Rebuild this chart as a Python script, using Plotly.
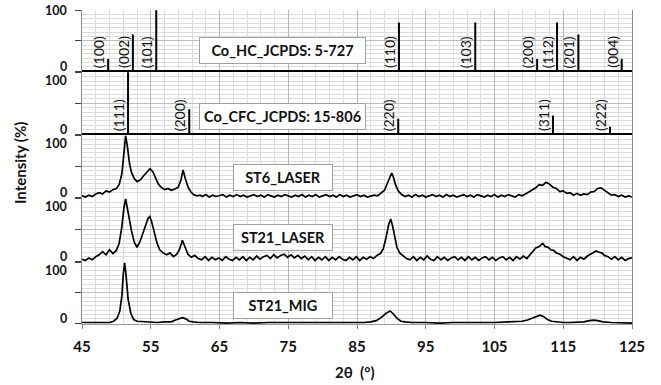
import plotly.graph_objects as go

# ---------------- data ----------------
HC_POS = [48.8, 52.4, 55.8, 91.1, 102.2, 111.2, 114.1, 117.2, 123.5]
HC_INT = [20, 60, 100, 80, 80, 20, 80, 60, 20]
HC_HKL = ["(100)", "(002)", "(101)", "(110)", "(103)", "(200)", "(112)", "(201)", "(004)"]

CFC_POS = [51.7, 60.6, 91.0, 113.5, 121.8]
CFC_INT = [100, 40, 25, 30, 12]
CFC_HKL = ["(111)", "(200)", "(220)", "(311)", "(222)"]

ST6_X = [45, 45.5, 46, 46.5, 47, 47.5, 48, 48.5, 49, 49.5,
         50, 50.4, 50.8, 51.1, 51.35, 51.6, 51.9, 52.2, 52.6, 53.0,
         53.5, 54.0, 54.5, 54.9, 55.3, 55.7, 56.1, 56.5, 57.0, 57.5,
         58.0, 58.5, 59.0, 59.4, 59.7, 60.0, 60.4, 60.8, 61.2, 61.7,
         62.2, 62.5, 63, 63.5, 64, 64.5, 65, 65.5, 66, 66.5,
         67, 67.5, 68, 68.5, 69, 69.5, 70, 70.5, 71, 71.5,
         72, 72.5, 73, 73.5, 74, 74.5, 75, 75.5, 76, 76.5,
         77, 77.5, 78, 78.5, 79, 79.5, 80, 80.5, 81, 81.5,
         82, 82.5, 83, 83.5, 84, 84.5, 85, 85.5, 86, 86.5,
         87, 87.5, 88, 88.5, 89, 89.4, 89.8, 90.05, 90.3, 90.6,
         91.0, 91.5, 92, 92.5, 93, 93.5, 94, 94.5, 95, 95.5,
         96, 96.5, 97, 97.5, 98, 98.5, 99, 99.5, 100, 100.5,
         101, 101.5, 102, 102.5, 103, 103.5, 104, 104.5, 105, 105.5,
         106, 106.5, 107, 107.5, 108, 108.5, 109, 109.5, 110, 110.5,
         111, 111.5, 112, 112.5, 113, 113.5, 114, 114.5, 115, 115.5,
         116, 116.5, 117, 117.5, 118, 118.5, 119, 119.5, 120, 120.5,
         121, 121.5, 122, 122.5, 123, 123.5, 124, 124.5, 125]
ST6_Y = [2, 0, 3, 1, 5, 7, 5, 10, 8, 12,
         14, 20, 38, 72, 99, 82, 55, 40, 30, 25,
         28, 35, 42, 46, 41, 30, 21, 16, 12, 14,
         11, 13, 16, 28, 44, 31, 17, 9, 4, 2,
         3, 1, 4, 0, 3, 1, 2, 4, 0, 3,
         1, 4, 1, 3, 0, 2, 4, 1, 3, 0,
         4, 2, 0, 3, 1, 4, 2, 0, 3, 1,
         4, 0, 3, 1, 4, 0, 2, 4, 1, 3,
         0, 4, 1, 3, 0, 2, 4, 1, 3, 0,
         2, 3, 2, 6, 11, 22, 34, 39, 32, 20,
         10, 4, 1, 3, 0, 4, 1, 3, 0, 2,
         4, 1, 3, 0, 4, 1, 3, 0, 2, 4,
         1, 3, 0, 4, 2, 0, 3, 1, 4, 0,
         3, 1, 4, 2, 0, 4, 2, 5, 8, 12,
         15, 20, 19, 24, 21, 16, 14, 9, 10, 6,
         7, 3, 6, 3, 5, 4, 8, 9, 14, 15,
         11, 8, 3, 4, 1, 3, 0, 2, 0]

ST21L_X = [45, 45.5, 46, 46.5, 47, 47.5, 48, 48.5, 49, 49.5,
           50, 50.4, 50.8, 51.1, 51.35, 51.6, 51.9, 52.2, 52.6, 53.0,
           53.4, 53.8, 54.2, 54.6, 54.85, 55.1, 55.5, 55.9, 56.3, 56.8,
           57.3, 57.8, 58.3, 58.8, 59.2, 59.6, 60.0, 60.4, 60.9, 61.4,
           61.9, 62.4, 62.9, 63.4, 63.9, 64.4, 64.9, 65.4, 65.9, 66.4,
           66.9, 67.4, 67.9, 68.4, 68.9, 69.4, 69.9, 70.4, 70.9, 71.4,
           71.9, 72.4, 72.9, 73.4, 73.9, 74.4, 74.9, 75.4, 75.9, 76.4,
           76.9, 77.4, 77.9, 78.4, 78.9, 79.4, 79.9, 80.4, 80.9, 81.4,
           81.9, 82.4, 82.9, 83.4, 83.9, 84.4, 84.9, 85.4, 85.9, 86.4,
           86.9, 87.4, 87.9, 88.4, 88.8, 89.2, 89.6, 89.9, 90.2, 90.5,
           90.8, 91.2, 91.7, 92.2, 92.7, 93.2, 93.7, 94.2, 94.7, 95.2,
           95.7, 96.2, 96.7, 97.2, 97.7, 98.2, 98.7, 99.2, 99.7, 100.2,
           100.7, 101.2, 101.7, 102.2, 102.7, 103.2, 103.7, 104.2, 104.7, 105.2,
           105.7, 106.2, 106.7, 107.2, 107.7, 108.2, 108.7, 109.2, 109.7, 110.2,
           110.6, 111.0, 111.5, 112.0, 112.4, 112.8, 113.2, 113.6, 114.0, 114.5,
           115.0, 115.5, 116.0, 116.5, 117.0, 117.5, 118.0, 118.5, 119.0, 119.4,
           119.8, 120.2, 120.6, 121.0, 121.5, 122.0, 122.5, 123.0, 123.5, 124.0,
           124.5, 125.0]
ST21L_Y = [3, 1, 5, 2, 7, 10, 15, 10, 18, 12,
           17, 28, 55, 85, 99, 84, 63, 48, 30, 22,
           30, 44, 55, 68, 71, 64, 46, 29, 18, 13,
           10, 13, 7, 11, 19, 33, 22, 11, 6, 9,
           4, 2, 7, 1, 6, 2, 5, 1, 7, 3,
           1, 6, 2, 7, 1, 6, 2, 8, 3, 7,
           9, 4, 10, 5, 9, 11, 6, 10, 5, 9,
           4, 8, 2, 7, 1, 6, 2, 7, 1, 6,
           2, 7, 3, 1, 6, 2, 7, 1, 6, 3,
           7, 4, 9, 12, 19, 36, 58, 67, 55, 38,
           22, 13, 8, 4, 2, 7, 1, 6, 2, 8,
           3, 1, 7, 2, 6, 1, 5, 7, 2, 6,
           1, 7, 2, 6, 1, 5, 7, 2, 6, 1,
           5, 7, 2, 6, 1, 7, 3, 8, 4, 10,
           16, 21, 23, 28, 23, 22, 18, 17, 13, 11,
           7, 4, 2, 7, 1, 6, 3, 8, 11, 14,
           16, 14, 13, 9, 7, 3, 7, 2, 6, 1,
           4, 5]

MIG_X = [45, 46, 47, 48, 49, 49.6, 50.1, 50.5, 50.8, 51.0,
         51.2, 51.4, 51.7, 52.1, 52.5, 53, 54, 55, 56, 57,
         58, 58.6, 59.2, 59.6, 60.1, 60.6, 61.2, 62, 64, 66,
         68, 70, 72, 74, 76, 78, 80, 82, 84, 86,
         87, 87.8, 88.5, 89.2, 89.8, 90.3, 90.8, 91.4, 92, 93,
         95, 97, 99, 101, 103, 105, 107, 108, 109, 109.8,
         110.6, 111.2, 111.6, 112.1, 112.7, 113.3, 114, 115, 116, 117,
         118, 118.8, 119.4, 120, 120.8, 122, 123, 124, 125]
MIG_Y = [1, 1, 0, 1, 1, 3, 8, 20, 45, 80,
         99, 80, 40, 16, 6, 3, 2, 1, 1, 2,
         2, 5, 8, 9, 7, 3, 2, 1, 1, 0,
         1, 0, 1, 1, 0, 1, 0, 1, 1, 1,
         2, 4, 9, 16, 20, 15, 8, 3, 2, 1,
         1, 0, 1, 1, 0, 1, 2, 2, 3, 5,
         9, 12, 13, 11, 6, 3, 2, 1, 1, 1,
         2, 4, 5, 4, 2, 1, 1, 0, 0]

PANEL_LABELS = ["Co_HC_JCPDS: 5-727", "Co_CFC_JCPDS: 15-806", "ST6_LASER", "ST21_LASER", "ST21_MIG"]
X_TICKS = [45, 55, 65, 75, 85, 95, 105, 115, 125]

FONT = "Lato"
INK = "#111111"


def sticks(pos, inten):
    xs, ys = [45], [0]
    for p, h in zip(pos, inten):
        xs += [p, p, p]
        ys += [0, h, 0]
    xs.append(125)
    ys.append(0)
    return xs, ys


fig = go.Figure()
hx, hy = sticks(HC_POS, HC_INT)
cx, cy = sticks(CFC_POS, CFC_INT)
series = [(hx, hy, 2), (cx, cy, 2), (ST6_X, ST6_Y, 1.7), (ST21L_X, ST21L_Y, 1.7), (MIG_X, MIG_Y, 1.7)]
yrefs = ["y", "y2", "y3", "y4", "y5"]
for i, (xs, ys, w) in enumerate(series):
    fig.add_trace(go.Scatter(x=xs, y=ys, mode="lines", yaxis=yrefs[i], xaxis="x",
                             line=dict(color="black", width=w), showlegend=False,
                             hoverinfo="skip"))

# panel domains (top -> bottom)
bounds_px = [10, 72, 135, 198, 262, 324]
top, bot = bounds_px[0], bounds_px[-1]
H = bot - top
domains = []
for i in range(5):
    d0 = (bot - bounds_px[i + 1]) / H
    d1 = (bot - bounds_px[i]) / H
    domains.append([d0, d1])

layout = dict(
    width=661, height=385,
    margin=dict(l=82, r=29, t=10, b=61),
    paper_bgcolor="white", plot_bgcolor="white",
    font=dict(family=FONT, color=INK),
    showlegend=False,
)

layout["xaxis"] = dict(
    range=[45, 125], anchor="y5", tickmode="array", tickvals=X_TICKS,
    ticktext=[f"<b>{t}</b>" for t in X_TICKS],
    tickfont=dict(size=15, family=FONT, color=INK),
    ticks="outside", ticklen=4, tickcolor="#808080", tickwidth=1,
    ticklabelstandoff=5,
    showline=True, linecolor="#9a9a9a", linewidth=1,
    showgrid=True, gridcolor="#b4b4b4", gridwidth=1,
    minor=dict(tick0=45, dtick=2, showgrid=True, gridcolor="#dcdcdc", gridwidth=1, ticks=""),
    zeroline=False, fixedrange=True,
)

for i in range(5):
    key = "yaxis" if i == 0 else f"yaxis{i+1}"
    layout[key] = dict(
        domain=domains[i], range=[-1.5, 100.5], anchor="x",
        tickmode="linear", tick0=0, dtick=50, showticklabels=False,
        ticks="outside", ticklen=6, tickcolor="#404040", tickwidth=1,
        showline=True, linecolor="#8c8c8c", linewidth=1, mirror=True,
        showgrid=True, gridcolor="#bdbdbd", gridwidth=1,
        minor=dict(tick0=0, dtick=50 / 7, showgrid=True, gridcolor="#dcdcdc", gridwidth=1, ticks=""),
        zeroline=False, fixedrange=True,
    )

fig.update_layout(**layout)

ann = []
# y tick labels as annotations (offset like the original)
for i in range(5):
    ann.append(dict(xref="paper", x=0, xanchor="right", xshift=-13,
                    yref=yrefs[i], y=0, yanchor="middle", yshift=5,
                    text="<b>0</b>", showarrow=False, font=dict(size=12.5, color=INK)))
    ann.append(dict(xref="paper", x=0, xanchor="right", xshift=-13,
                    yref=yrefs[i], y=100, yanchor="middle", yshift=0 if i == 0 else -8,
                    text="<b>100</b>", showarrow=False, font=dict(size=12.5, color=INK)))

# stick labels
for pos, hkl in zip(HC_POS, HC_HKL):
    ann.append(dict(xref="x", x=pos, xanchor="center", xshift=-10,
                    yref="y", y=0, yanchor="bottom", yshift=1,
                    text=hkl, textangle=-90, showarrow=False,
                    font=dict(size=14, color=INK)))
for pos, hkl in zip(CFC_POS, CFC_HKL):
    ann.append(dict(xref="x", x=pos, xanchor="center", xshift=-10,
                    yref="y2", y=0, yanchor="bottom", yshift=1,
                    text=hkl, textangle=-90, showarrow=False,
                    font=dict(size=14, color=INK)))

# panel name boxes
box_y = [34, 28.6, 32.5, 37, 29]
box_w = [161, 161, 94, 94, 94]
for i in range(5):
    ann.append(dict(xref="x", x=74.2, xanchor="center",
                    yref=yrefs[i], y=box_y[i], yanchor="middle",
                    text=f"<b>{PANEL_LABELS[i]}</b>", showarrow=False,
                    width=box_w[i], height=21, align="center",
                    bgcolor="white", bordercolor="#a0a0a0", borderwidth=1, borderpad=2,
                    font=dict(size=14.5, color=INK)))

# axis titles
ann.append(dict(xref="paper", x=0.5, xanchor="center", yref="paper", y=0, yanchor="middle",
                yshift=-48, xshift=-2, text="<b>2θ  (°)</b>", showarrow=False,
                font=dict(size=15, color=INK)))
ann.append(dict(xref="paper", x=0, xanchor="center", xshift=-62, yref="paper", y=0.5,
                yanchor="middle", yshift=4, text="<b>Intensity (%)</b>", textangle=-90,
                showarrow=False, font=dict(size=15, color=INK)))

fig.update_layout(annotations=ann)
fig.write_html("out.html")
